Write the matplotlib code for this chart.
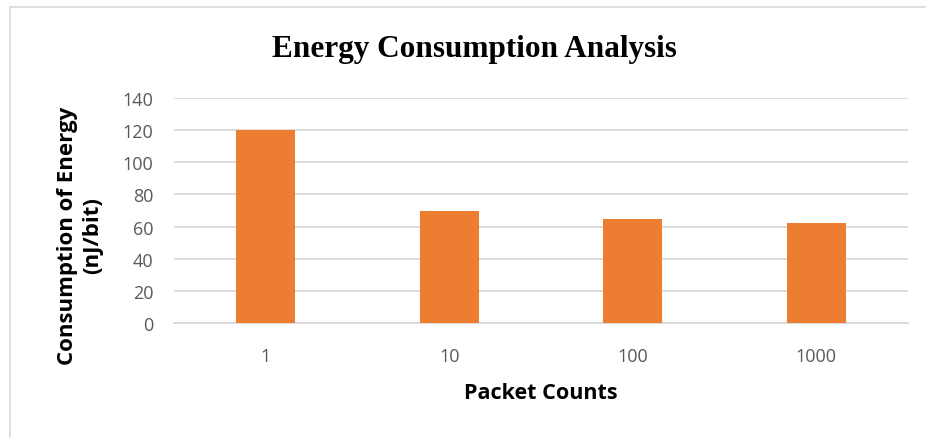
import matplotlib
matplotlib.use("Agg")
import matplotlib.pyplot as plt
from matplotlib.patches import Rectangle

categories = ["1", "10", "100", "1000"]
values = [120, 70, 65, 62]
yticks = [0, 20, 40, 60, 80, 100, 120, 140]

fig = plt.figure(figsize=(9.26, 4.39), dpi=100)
fig.patch.set_facecolor("white")
# outer chart border
fig.patches.append(Rectangle((10/926, -0.05), 1.1, (439-8)/439 + 0.05, transform=fig.transFigure,
                             fill=False, edgecolor="#d9d9d9", linewidth=1.2))

ax = fig.add_axes([174/926, (439-324)/439, (908-174)/926, (324-99)/439])
x = list(range(len(categories)))
ax.bar(x, values, width=0.32, color="#ED7D31", zorder=3)
ax.set_xlim(-0.5, len(categories) - 0.5)
ax.set_ylim(0, 140)
ax.set_yticks(yticks)
ax.set_xticks(x)
ax.set_xticklabels(categories)
ax.grid(axis="y", color="#d9d9d9", linewidth=1.3, zorder=0)
for s in ["top", "right", "left"]:
    ax.spines[s].set_visible(False)
ax.spines["bottom"].set_color("#d9d9d9")
ax.spines["bottom"].set_linewidth(1.3)
ax.tick_params(axis="both", length=0, labelsize=13, labelcolor="#595959")
ax.tick_params(axis="x", pad=17)
ax.tick_params(axis="y", pad=15)
for lbl in ax.get_xticklabels() + ax.get_yticklabels():
    lbl.set_fontfamily("Open Sans")

fig.text(474/926, 1 - 49/439, "Energy Consumption Analysis", ha="center", va="center",
         fontsize=22.5, fontweight="bold", family="Liberation Serif")
fig.text(541/926, 1 - 394/439, "Packet Counts", ha="center", va="center",
         fontsize=15.5, fontweight="bold", family="Open Sans")
fig.text(80/926, 1 - 236/439, "Consumption of Energy\n(nJ/bit)", ha="center", va="center",
         rotation=90, fontsize=16, fontweight="bold", family="Open Sans", linespacing=1.3)

fig.savefig("out.png", dpi=100, facecolor="white")
